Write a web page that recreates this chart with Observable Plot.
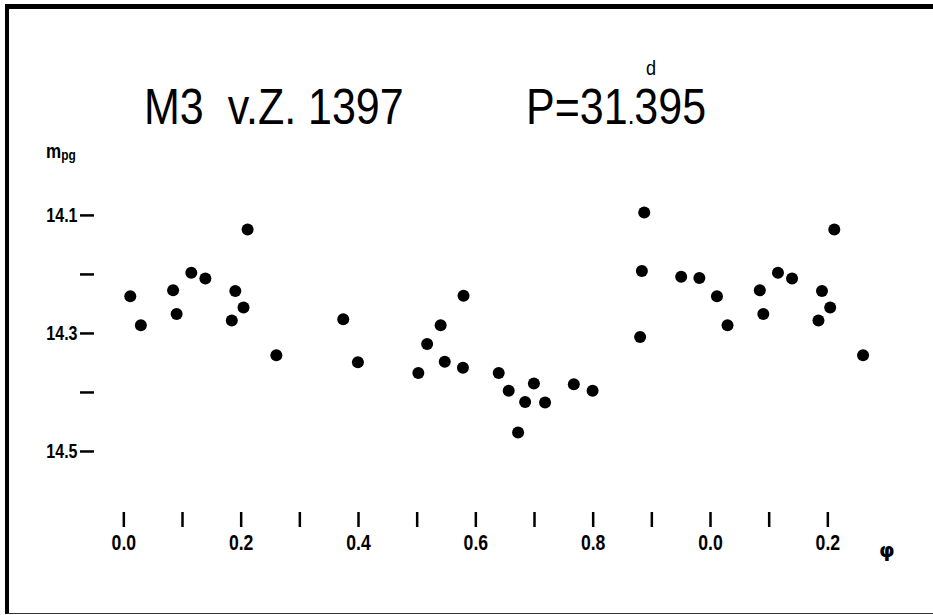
<!DOCTYPE html>
<html>
<head>
<meta charset="utf-8">
<script src="https://cdn.jsdelivr.net/npm/d3@7"></script>
<script src="https://cdn.jsdelivr.net/npm/@observablehq/plot@0.6"></script>
<style>
  html, body { margin: 0; padding: 0; background: #fff; overflow: hidden; }
  #wrap { position: relative; width: 933px; height: 615px; overflow: hidden; background: #fff; }
  #frame { position: absolute; left: 5px; top: 4px; width: 990px; height: 604px;
           border-left: 4px solid #000; border-top: 5px solid #000; border-bottom: 1px solid #333; }
  #chart { position: absolute; left: 0; top: 0; }
  .title { position: absolute; top: 82px; font-family: "Liberation Sans", sans-serif;
           font-size: 50px; line-height: 50px; color: #000; white-space: pre;
           transform: scaleX(0.86); transform-origin: 0 0; }
  .dot { font-size: 28px; line-height: 28px; }
  .sup { position: absolute; font-size: 21px; line-height: 21px; }
  #mpg { position: absolute; left: 46px; top: 141px; font-family: "Liberation Sans", sans-serif;
         font-weight: bold; font-size: 20px; line-height: 20px; transform: scaleX(0.85); transform-origin: 0 0; }
  #mpg sub { font-size: 14px; vertical-align: 0; position: relative; top: 2px; }
  #phi { position: absolute; left: 879px; top: 538px; font-family: "DejaVu Sans", sans-serif;
         font-weight: bold; font-size: 20px; }
</style>
</head>
<body>
<div id="wrap">
  <div id="frame"></div>
  <div id="chart"></div>
  <div class="title" style="left:144px">M3  v.Z. 1397</div>
  <div class="title" style="left:526px">P=31<span class="dot">.</span>395</div>
  <div class="sup" style="left:646px; top:57px; font-family:'Liberation Sans',sans-serif; transform:scaleX(0.86); transform-origin:0 0">d</div>
  <div id="mpg">m<sub>pg</sub></div>
  <div id="phi">φ</div>
</div>
<script>
// Observed phases and photographic magnitudes (one cycle)
const phase = [0.011, 0.029, 0.084, 0.090, 0.115, 0.139, 0.184, 0.190, 0.204, 0.211, 0.260,
               0.374, 0.399, 0.502, 0.517, 0.540, 0.547, 0.578, 0.579, 0.639, 0.656, 0.672,
               0.684, 0.699, 0.718, 0.767, 0.799, 0.880, 0.883, 0.887, 0.950, 0.981];
const mag   = [14.237, 14.286, 14.227, 14.267, 14.197, 14.207, 14.278, 14.228, 14.256, 14.124, 14.337,
               14.276, 14.349, 14.367, 14.318, 14.286, 14.348, 14.358, 14.236, 14.367, 14.397, 14.468,
               14.416, 14.385, 14.417, 14.386, 14.397, 14.306, 14.194, 14.095, 14.204, 14.206];

const xTickValues = [0, 0.1, 0.2, 0.3, 0.4, 0.5, 0.6, 0.7, 0.8, 0.9, 1.0, 1.1, 1.2];
const xTickLabels = ["0.0", "", "0.2", "", "0.4", "", "0.6", "", "0.8", "", "0.0", "", "0.2"];
const yTickValues = [14.1, 14.2, 14.3, 14.4, 14.5];
const yTickLabels = ["14.1", "", "14.3", "", "14.5"];

// the light curve is repeated past phase 1.0, as in the original figure
const base = phase.map((p, i) => ({phase: p, mag: mag[i]}));
const repeated = base.filter(d => d.phase + 1 <= 1.3).map(d => ({phase: d.phase + 1, mag: d.mag}));
const data = base.concat(repeated);

const chart = Plot.plot({
  width: 933,
  height: 615,
  marginLeft: 94,
  marginRight: 43,
  marginTop: 150,
  marginBottom: 103,
  style: {fontFamily: "'Liberation Sans', sans-serif", fontWeight: "bold", color: "#000", background: "transparent"},
  x: {domain: [-0.05, 1.3068]},
  y: {domain: [13.99, 14.6034], reverse: true},
  marks: [
    Plot.axisX({ticks: xTickValues, tickSize: 15, tickPadding: 7, strokeWidth: 2.5, fontSize: 22,
                tickFormat: (d, i) => xTickLabels[i], label: null}),
    Plot.axisY({ticks: yTickValues, tickSize: 14, tickPadding: 3, strokeWidth: 2.5, fontSize: 20,
                tickFormat: (d, i) => yTickLabels[i], label: null}),
    Plot.dot(data, {x: "phase", y: "mag", r: 6, fill: "#000", stroke: "none"})
  ]
});
document.getElementById("chart").appendChild(chart);
// narrow the tick labels to imitate the condensed lettering of the original
d3.select(chart).selectAll("g[aria-label$='tick label'] text").each(function() {
  const w = this.getComputedTextLength();
  if (w > 0) {
    this.setAttribute("textLength", (w * 0.8).toFixed(1));
    this.setAttribute("lengthAdjust", "spacingAndGlyphs");
  }
});
</script>
</body>
</html>
